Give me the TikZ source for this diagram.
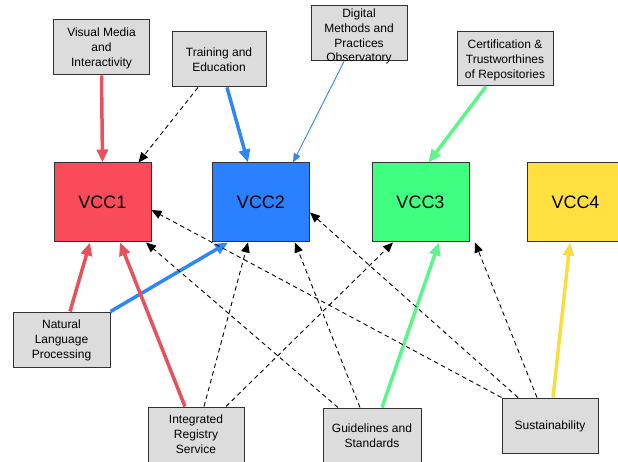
\documentclass[tikz,border=0pt]{standalone}
\usepackage{fontspec}
\setmainfont{Liberation Sans}
\usetikzlibrary{arrows.meta}

\definecolor{boxgray}{RGB}{220,220,220}
\definecolor{edgegray}{RGB}{50,50,50}
\definecolor{vccred}{RGB}{250,75,90}
\definecolor{vccblue}{RGB}{42,128,255}
\definecolor{vccgreen}{RGB}{64,255,128}
\definecolor{vccyellow}{RGB}{255,224,64}
\definecolor{linkred}{RGB}{232,80,92}
\definecolor{linkblue}{RGB}{47,134,246}
\definecolor{linkgreen}{RGB}{92,245,138}
\definecolor{linkyellow}{RGB}{252,221,64}

\tikzset{
  topic/.style={draw=edgegray, line width=1pt, fill=boxgray, inner sep=0pt,
    minimum width=96, minimum height=55, align=center, text depth=0pt,
    font=\fontsize{12}{15}\selectfont},
  vcc/.style={draw=edgegray, line width=1pt, inner sep=0pt,
    minimum width=97, minimum height=79, font=\fontsize{18}{20}\selectfont},
  strong/.style={line width=3.5pt, -{Triangle[length=13,width=11]}},
  weak/.style={line width=0.9pt, dash pattern=on 4.5pt off 3.5pt, black,
    -{Triangle[length=10,width=8.5]}},
  thin/.style={line width=0.9pt, -{Triangle[length=9,width=7]}}
}

\begin{document}
\begin{tikzpicture}[x=1pt, y=-1pt]
  \useasboundingbox (0,0) rectangle (618,462);

  % competence centres
  \node[vcc, fill=vccred]    (vcc1) at (102.5,202.5) {VCC1};
  \node[vcc, fill=vccblue]   (vcc2) at (261,202.5)   {VCC2};
  \node[vcc, fill=vccgreen]  (vcc3) at (420.5,202.5) {VCC3};
  \node[vcc, fill=vccyellow] (vcc4) at (575.5,202.5) {VCC4};

  % upper topics
  \node[topic] (vm) at (101.5,47.5) {Visual Media\\and\\Interactivity};
  \node[topic, minimum width=94] (te) at (219,59.5) {Training and\\Education};
  \node[topic] (dm) at (359,33.5) {};
  \node[align=center, inner sep=0pt, text depth=0pt,
    font=\fontsize{12}{14.7}\selectfont]
    (dmtext) at (359,35.5) {Digital\\Methods and\\Practices\\Observatory};
  \node[topic, minimum height=54] (ce) at (505,59)
    {Certification \&\\Trustworthines\\of Repositories};

  % lower topics
  \node[topic, minimum width=97] (nlp) at (61.5,339.5)
    {Natural\\Language\\Processing};
  \node[topic] (irs) at (196,434.5) {Integrated\\Registry\\Service};
  \node[topic, minimum width=98] (gs) at (372,435.5) {Guidelines and\\Standards};
  \node[topic] (su) at (550,425.5) {Sustainability};

  % links from the upper topics
  \draw[strong, linkred] (vm.south) -- (vcc1.north);
  \draw[weak] ([xshift=-21]te.south) -- ([xshift=36]vcc1.north);
  \draw[strong, linkblue] ([xshift=8]te.south) -- ([xshift=-13]vcc2.north);
  \draw[thin, linkblue] ([xshift=-15]dm.south) -- ([xshift=32]vcc2.north);
  \draw[strong, linkgreen] ([xshift=-19]ce.south) -- ([xshift=8]vcc3.north);

  % links from the lower topics
  \draw[strong, linkred] ([xshift=8.5]nlp.north) -- ([xshift=-12.5]vcc1.south);
  \draw[strong, linkblue] (nlp.north east) -- ([xshift=-33]vcc2.south);
  \draw[strong, linkred] ([xshift=-11]irs.north) -- ([xshift=17.5]vcc1.south);
  \draw[weak] ([xshift=8]irs.north) -- ([xshift=-13]vcc2.south);
  \draw[weak] ([xshift=30]irs.north) -- ([xshift=-27.5]vcc3.south);
  \draw[weak] ([xshift=-34]gs.north) -- ([xshift=43.5]vcc1.south);
  \draw[weak] ([xshift=-12]gs.north) -- ([xshift=34]vcc2.south);
  \draw[strong, linkgreen] ([xshift=10]gs.north) -- ([xshift=18.5]vcc3.south);
  \draw[weak] (su.north west) -- ([yshift=-7.5]vcc1.east);
  \draw[weak] ([xshift=-32]su.north) -- ([yshift=-10]vcc2.east);
  \draw[weak] ([xshift=-13]su.north) -- ([xshift=54.5]vcc3.south);
  \draw[strong, linkyellow] ([xshift=3]su.north) -- ([xshift=-5.5]vcc4.south);
\end{tikzpicture}
\end{document}
